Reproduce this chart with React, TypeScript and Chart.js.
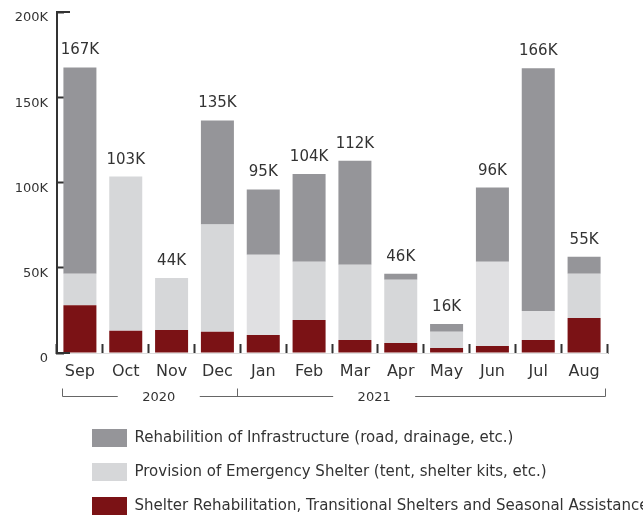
import React, { useEffect, useRef } from 'react';
import { Chart, registerables } from 'chart.js';

Chart.register(...registerables);

const MONTHS = ['Sep', 'Oct', 'Nov', 'Dec', 'Jan', 'Feb', 'Mar', 'Apr', 'May', 'Jun', 'Jul', 'Aug'];
const SHELTER = [28000, 13000, 13500, 12400, 10600, 19400, 7600, 5900, 2900, 4100, 7600, 20600];
const EMERGENCY = [18500, 90500, 30500, 63000, 47000, 34100, 44200, 37100, 9500, 49400, 17100, 25900];
const INFRA = [121000, 0, 0, 61000, 38300, 51500, 61000, 3500, 4600, 43500, 142300, 10000];
const TOTAL_LABELS = ['167K', '103K', '44K', '135K', '95K', '104K', '112K', '46K', '16K', '96K', '166K', '55K'];
const Y_MAX = 200000;
const Y_STEP = 50000;
const YEARS = ['2020', '2021'];
const SERIES_NAMES = [
  'Shelter Rehabilitation, Transitional Shelters and Seasonal Assistance',
  'Provision of Emergency Shelter (tent, shelter kits, etc.)',
  'Rehabilition of Infrastructure (road, drainage, etc.)',
];

const FONT = "'DejaVu Sans', Verdana, sans-serif";
const TEXT = '#333333';
const RED = '#7b1215';
const LIGHT = '#d6d7d9';
const LIGHTER = '#e0e0e2';
const DARK = '#959599';
const LIGHT_COLORS = MONTHS.map((m) => (m === 'Jan' || m === 'Jun' || m === 'Jul' ? LIGHTER : LIGHT));

// layout of the year bracket (in category-index units)
const BRACKET_EDGES = [-0.4, 3.42, 11.46];
const YEAR_LABEL_POS = [1.72, 6.42];

const decorations = {
  id: 'decorations',
  afterLayout(chart: any) {
    const lg = chart.legend;
    if (lg) {
      lg.left = 76;
      lg.top = 413;
      lg.right = chart.width;
      lg.bottom = chart.height;
    }
  },
  afterDatasetsDraw(chart: any) {
    const { ctx, chartArea } = chart;
    const x = chart.scales.x;
    const y = chart.scales.y;
    ctx.save();
    // totals above bars
    ctx.font = `15px ${FONT}`;
    ctx.fillStyle = TEXT;
    ctx.textAlign = 'center';
    ctx.textBaseline = 'alphabetic';
    MONTHS.forEach((_, i) => {
      const total = SHELTER[i] + EMERGENCY[i] + INFRA[i];
      ctx.fillText(TOTAL_LABELS[i], x.getPixelForValue(i), y.getPixelForValue(total) - 13);
    });
    // long end ticks on the y axis
    ctx.strokeStyle = '#333333';
    ctx.lineWidth = 2;
    [y.min, y.max].forEach((v: number) => {
      const py = Math.round(y.getPixelForValue(v));
      ctx.beginPath();
      ctx.moveTo(chartArea.left - 1, py);
      ctx.lineTo(chartArea.left + 13, py);
      ctx.stroke();
    });
    // year brackets
    const by = Math.round(chartArea.bottom + 43) + 0.5;
    const edges = BRACKET_EDGES.map((v) => Math.round(x.getPixelForValue(v)) + 0.5);
    const labels = YEAR_LABEL_POS.map((v) => x.getPixelForValue(v));
    const gap = 41;
    ctx.strokeStyle = '#666666';
    ctx.lineWidth = 1;
    ctx.beginPath();
    ctx.moveTo(edges[0], by);
    ctx.lineTo(labels[0] - gap, by);
    ctx.moveTo(labels[0] + gap, by);
    ctx.lineTo(labels[1] - gap, by);
    ctx.moveTo(labels[1] + gap, by);
    ctx.lineTo(edges[2], by);
    edges.forEach((e) => {
      ctx.moveTo(e, by);
      ctx.lineTo(e, by - 8);
    });
    ctx.stroke();
    ctx.font = `13px ${FONT}`;
    ctx.textBaseline = 'middle';
    YEARS.forEach((yr, i) => ctx.fillText(yr, labels[i], by + 1.5));
    ctx.restore();
  },
};

export default function App() {
  const ref = useRef<HTMLCanvasElement | null>(null);
  useEffect(() => {
    if (!ref.current) return;
    const chart = new Chart(ref.current, {
      type: 'bar',
      data: {
        labels: MONTHS,
        datasets: [
          { label: SERIES_NAMES[0], data: SHELTER, backgroundColor: RED, borderWidth: 0 },
          { label: SERIES_NAMES[1], data: EMERGENCY, backgroundColor: LIGHT_COLORS, borderWidth: 0 },
          { label: SERIES_NAMES[2], data: INFRA, backgroundColor: DARK, borderWidth: 0 },
        ],
      },
      options: {
        animation: false,
        responsive: true,
        maintainAspectRatio: false,
        layout: { padding: { top: 12, right: 36, left: 0, bottom: 0 } },
        scales: {
          x: {
            stacked: true,
            grid: {
              offset: true,
              drawOnChartArea: false,
              drawTicks: true,
              tickLength: -9,
              tickWidth: 2,
              tickColor: '#333333',
            },
            border: { color: '#dddddd', width: 1 },
            ticks: { color: TEXT, font: { family: FONT, size: 16 }, padding: 18, maxRotation: 0, autoSkip: false },
            afterFit: (s: any) => {
              s.height = 50;
            },
          },
          y: {
            stacked: true,
            min: 0,
            max: Y_MAX,
            grid: {
              drawOnChartArea: false,
              drawTicks: true,
              tickLength: -7,
              tickWidth: 2,
              tickColor: '#333333',
            },
            border: { color: '#333333', width: 2 },
            ticks: {
              stepSize: Y_STEP,
              color: TEXT,
              font: { family: FONT, size: 13 },
              padding: 16,
              labelOffset: 6,
              callback: (v: any) => (Number(v) === 0 ? '0' : Number(v) / 1000 + 'K'),
            },
            afterFit: (s: any) => {
              s.width = 57;
              s.paddingTop = 0;
              s.paddingBottom = 0;
            },
          },
        },
        plugins: {
          legend: {
            position: 'bottom',
            align: 'start',
            reverse: true,
            labels: {
              boxWidth: 35,
              boxHeight: 18,
              padding: 16,
              color: TEXT,
              font: { family: FONT, size: 15 },
            },
          },
          tooltip: { enabled: false },
        },
      },
      plugins: [decorations],
    });
    return () => chart.destroy();
  }, []);
  return (
    <div style={{ position: 'absolute', left: 0, top: 0, width: 643, height: 515 }}>
      <canvas ref={ref} />
    </div>
  );
}
